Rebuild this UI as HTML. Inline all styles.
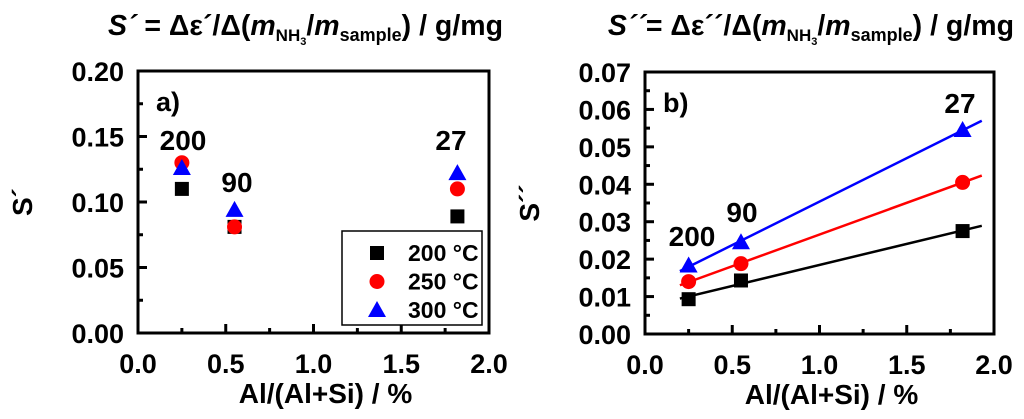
<!DOCTYPE html>
<html><head><meta charset="utf-8"><style>
body{margin:0;background:#fff;}
svg{display:block;font-family:"Liberation Sans",Arial,sans-serif;font-weight:bold;}
</style></head><body>
<svg id="c" width="1024" height="419" viewBox="0 0 1024 419"></svg>
<script>
const xVals=[0.25,0.55,1.82];
const seriesNames=["200 °C","250 °C","300 °C"];
const aS200=[0.110,0.081,0.089];
const aS250=[0.130,0.081,0.110];
const aS300=[0.126,0.094,0.122];
const bS200=[0.0093,0.0143,0.0275];
const bS250=[0.0140,0.0188,0.0405];
const bS300=[0.0183,0.0245,0.0545];
const siLabels=["200","90","27"];
const aYTicks=["0.00","0.05","0.10","0.15","0.20"];
const bYTicks=["0.00","0.01","0.02","0.03","0.04","0.05","0.06","0.07"];
const xTicks=["0.0","0.5","1.0","1.5","2.0"];
const colors=["#000","#f00","#00f"];
const NS="http://www.w3.org/2000/svg";
const svg=document.getElementById('c');
function el(t,a,p){const e=document.createElementNS(NS,t);for(const k in a)e.setAttribute(k,a[k]);(p||svg).appendChild(e);return e;}
function marker(g,kind,cx,cy,col){
 let m;
 if(kind===0)m=el('rect',{x:cx-7,y:cy-7,width:14,height:14,fill:col},g);
 else if(kind===1)m=el('circle',{cx:cx,cy:cy,r:7.5,fill:col},g);
 else m=el('polygon',{points:`${cx},${cy-9} ${cx+9},${cy+7} ${cx-9},${cy+7}`,fill:col},g);
 return m;
}
function panel(o){
 const g=el('g',{});
 
 
 const X=v=>o.x0+(v/2)*(o.x1-o.x0);
 const Y=v=>o.y1-(v/o.ymax)*(o.y1-o.y0);
 const fr=el('rect',{x:o.x0,y:o.y0,width:o.x1-o.x0,height:o.y1-o.y0,fill:'none',stroke:'#000','stroke-width':3},g);
 
 const n=o.yTicks.length-1, step=o.ymax/n;
 for(let i=0;i<=2*n;i++){const v=i*step/2,y=Y(v),L=i%2?5:9;
  el('line',{x1:o.x0,y1:y,x2:o.x0+L,y2:y,stroke:'#000','stroke-width':3},g);}
 o.yTicks.forEach((t,i)=>{const tx=el('text',{x:o.x0-14,y:Y(i*step)+10,'text-anchor':'end','font-size':27},g);tx.textContent=t;
  });
 for(let i=0;i<=8;i++){const x=X(i*0.25),L=i%2?5:9;
  el('line',{x1:x,y1:o.y1,x2:x,y2:o.y1-L,stroke:'#000','stroke-width':3},g);}
 xTicks.forEach((t,i)=>{const tx=el('text',{x:X(i*0.5),y:o.y1+40,'text-anchor':'middle','font-size':27},g);tx.textContent=t;
  });
 const xt=el('text',{x:(o.x0+o.x1)/2+12,y:o.y1+70,'text-anchor':'middle','font-size':28},g);xt.textContent="Al/(Al+Si) / %";
 
 const yt=el('text',{x:0,y:0,'text-anchor':'middle','font-size':28,transform:`translate(${o.x0-106},${(o.y0+o.y1)/2}) rotate(-90)`},g);yt.textContent=o.ytitle;
 
 const pl=el('text',{x:o.x0+18,y:o.y0+40,'font-size':27},g);pl.textContent=o.plabel;
 
 o.series.forEach((s,k)=>{
  if(o.fit){const n=xVals.length;let sx=0,sy=0,sxx=0,sxy=0;
   for(let i=0;i<n;i++){sx+=xVals[i];sy+=s[i];sxx+=xVals[i]*xVals[i];sxy+=xVals[i]*s[i];}
   const b=(n*sxy-sx*sy)/(n*sxx-sx*sx),a=(sy-b*sx)/n;
   const ln=el('line',{x1:X(0.2),y1:Y(a+b*0.2),x2:X(1.93),y2:Y(a+b*1.93),stroke:colors[k],'stroke-width':2.5},g);
   }
  s.forEach((v,i)=>{const m=marker(g,k,X(xVals[i]),Y(v),colors[k]);
   });
 });
 o.siPos.forEach((p,i)=>{const t=el('text',{x:p[0],y:p[1],'text-anchor':'middle','font-size':28},g);t.textContent=siLabels[i];
  });
 const ti=el('text',{x:o.titleX,y:35,'text-anchor':'end','font-size':28.5},g);
 
 ti.innerHTML=o.title;
 return g;
}
panel({name:'panel-a',x0:138,x1:489,y0:71,y1:333,ymax:0.20,yTicks:aYTicks,series:[aS200,aS250,aS300],fit:false,
 ytitle:"S´",plabel:"a)",siPos:[[183,150],[237,192],[451,150]],titleX:503,
 title:'<tspan font-style="italic">S´</tspan> = Δε´/Δ(<tspan font-style="italic">m</tspan><tspan font-size="17" dy="6">NH</tspan><tspan font-size="11" dy="4">3</tspan><tspan dy="-10">/</tspan><tspan font-style="italic">m</tspan><tspan font-size="18" dy="6">sample</tspan><tspan dy="-6">) / g/mg</tspan>'});
panel({name:'panel-b',x0:645,x1:994,y0:72,y1:334,ymax:0.07,yTicks:bYTicks,series:[bS200,bS250,bS300],fit:true,
 ytitle:"S´´",plabel:"b)",siPos:[[692,246],[742,222],[960,113]],titleX:1014,
 title:'<tspan font-style="italic">S´´</tspan>= Δε´´/Δ(<tspan font-style="italic">m</tspan><tspan font-size="17" dy="6">NH</tspan><tspan font-size="11" dy="4">3</tspan><tspan dy="-10">/</tspan><tspan font-style="italic">m</tspan><tspan font-size="18" dy="6">sample</tspan><tspan dy="-6">) / g/mg</tspan>'});
const lg=el('g',{});


el('rect',{x:342,y:231,width:140,height:94,fill:'#fff',stroke:'#000','stroke-width':1.5},lg);
seriesNames.forEach((nm,k)=>{const y=253+k*28.5;
 const m=marker(lg,k,377,y,colors[k]);
 
 
 const t=el('text',{x:408,y:y+8,'font-size':23},lg);t.textContent=nm;
 
 });
</script>
</body></html>
